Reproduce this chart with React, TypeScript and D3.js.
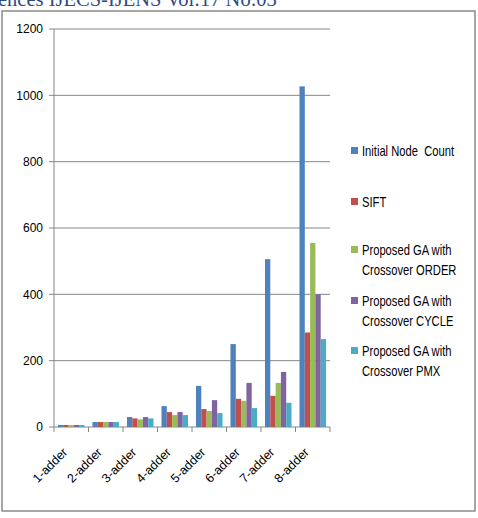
import { useMemo } from 'react';
import * as d3 from 'd3';

const categories = ['1-adder', '2-adder', '3-adder', '4-adder', '5-adder', '6-adder', '7-adder', '8-adder'];
const initialNodeCount = [6, 15, 30, 63, 124, 250, 506, 1027];
const sift = [6, 15, 26, 45, 54, 85, 94, 285];
const gaOrder = [6, 15, 23, 36, 48, 79, 133, 555];
const gaCycle = [6, 15, 30, 45, 81, 133, 166, 400];
const gaPmx = [6, 15, 26, 36, 42, 57, 73, 265];
const yTicks = [0, 200, 400, 600, 800, 1000, 1200];

const seriesNames = [
    'Initial Node  Count',
    'SIFT',
    'Proposed GA with Crossover ORDER',
    'Proposed GA with Crossover CYCLE',
    'Proposed GA with Crossover PMX',
];
const legendLines = [
    ['Initial Node  Count'],
    ['SIFT'],
    ['Proposed GA with', 'Crossover ORDER'],
    ['Proposed GA with', 'Crossover CYCLE'],
    ['Proposed GA with', 'Crossover PMX'],
];
const colors = ['#4F81BD', '#C0504D', '#9BBB59', '#8064A2', '#4BACC6'];

const W = 478;
const H = 518;
const plot = { left: 54, right: 330, top: 29, bottom: 427 };
const axisFont = '"Liberation Sans", Arial, sans-serif';

const App = () => {
    const allSeries = [initialNodeCount, sift, gaOrder, gaCycle, gaPmx];

    const x0 = useMemo(
        () => d3.scaleBand().domain(categories).range([plot.left, plot.right]).padding(0),
        []
    );
    const x1 = useMemo(
        () =>
            d3
                .scaleBand()
                .domain(seriesNames)
                .range([0, x0.bandwidth()])
                .paddingInner(0)
                .paddingOuter(0.75),
        [x0]
    );
    const y = useMemo(
        () => d3.scaleLinear().domain([0, 1200]).range([plot.bottom, plot.top]),
        []
    );

    const legendY = [151, 202, 250, 301, 351];

    return (
        <svg
            width={W}
            height={H}
            style={{ position: 'absolute', left: 0, top: 0, background: '#fff' }}
        >
            {/* journal header, clipped at top like the scan */}
            <text
                x={-2}
                y={6}
                fontFamily='"Liberation Serif", "Times New Roman", serif'
                fontSize={20.5}
                fill="#2d4c82"
            >
                ences IJECS-IJENS Vol:17 No:03
            </text>

            {/* chart frame */}
            <rect x={2} y={11} width={473} height={500} fill="none" stroke="#8a8a8a" strokeWidth={1.5} />

            {/* gridlines and y labels */}
            {yTicks.map(t => (
                <g key={t}>
                    <line x1={plot.left - 5} x2={plot.right} y1={y(t)} y2={y(t)} stroke="#868686" strokeWidth={1} />
                    <text
                        x={43}
                        y={y(t)}
                        dy="0.35em"
                        textAnchor="end"
                        fontFamily={axisFont}
                        fontSize={12}
                        fill="#000"
                    >
                        {t}
                    </text>
                </g>
            ))}

            {/* bars */}
            {categories.map((c, i) => (
                <g key={c} transform={`translate(${x0(c)},0)`}>
                    {allSeries.map((s, j) => (
                        <rect
                            key={j}
                            x={x1(seriesNames[j])}
                            y={y(s[i])}
                            width={x1.bandwidth()}
                            height={y(0) - y(s[i])}
                            fill={colors[j]}
                        />
                    ))}
                </g>
            ))}

            {/* y axis */}
            <line x1={plot.left} x2={plot.left} y1={plot.top} y2={plot.bottom} stroke="#868686" />

            {/* x axis ticks */}
            {[...categories.map(c => x0(c) ?? 0), plot.right].map((xv, i) => (
                <line key={i} x1={xv} x2={xv} y1={plot.bottom} y2={plot.bottom + 5} stroke="#868686" />
            ))}

            {/* x labels */}
            {categories.map(c => (
                <text
                    key={c}
                    transform={`translate(${(x0(c) ?? 0) + x0.bandwidth() / 2 - 3},453) rotate(-45)`}
                    textAnchor="end"
                    fontFamily={axisFont}
                    fontSize={12.5}
                    fill="#000"
                >
                    {c}
                </text>
            ))}

            {/* legend */}
            {legendLines.map((lines, i) => (
                <g key={i}>
                    <rect x={351} y={legendY[i] - 4} width={7} height={7} fill={colors[i]} />
                    {lines.map((ln, k) => (
                        <text
                            key={k}
                            transform={`translate(362,${legendY[i] + k * 20}) scale(0.8,1)`}
                            dy="0.35em"
                            fontFamily={axisFont}
                            fontSize={14}
                            fill="#000"
                            style={{ whiteSpace: 'pre' }}
                        >
                            {ln}
                        </text>
                    ))}
                </g>
            ))}
        </svg>
    );
};

export default App;
